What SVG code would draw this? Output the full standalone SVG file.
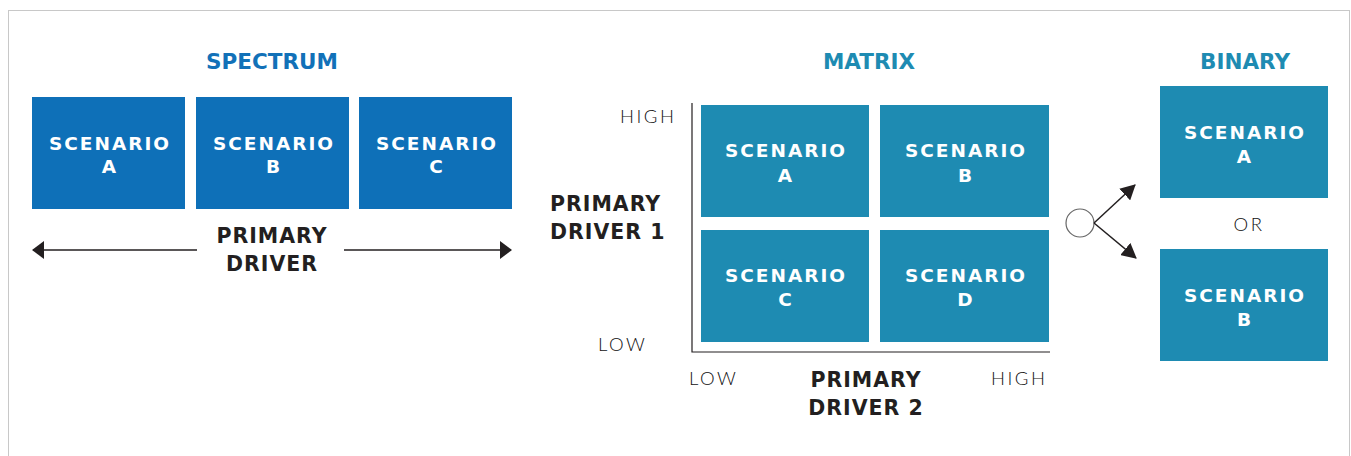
<svg xmlns="http://www.w3.org/2000/svg" width="1351" height="456" viewBox="0 0 1351 456">
<style>
.title{font-family:"DejaVu Sans","Liberation Sans",sans-serif;font-weight:bold;font-size:21.5px;text-anchor:middle}
.t1{fill:#1271b8}
.t2{fill:#1e8bb2}
.box1{fill:#0e70b8}
.box2{fill:#1e8bb2}
.bl{font-family:"DejaVu Sans","Liberation Sans",sans-serif;font-weight:bold;font-size:18.5px;fill:#ffffff;text-anchor:middle;letter-spacing:2px}
.drv{font-family:"DejaVu Sans","Liberation Sans",sans-serif;font-weight:bold;font-size:20.5px;fill:#231f20;letter-spacing:1px}
.lt{font-family:"Lato","Liberation Sans",sans-serif;font-weight:300;font-size:18.5px;fill:#111111;letter-spacing:2.5px}
.ln{stroke:#231f20;stroke-width:1.5;fill:none}
</style>
<defs>
<marker id="ah" markerUnits="userSpaceOnUse" markerWidth="12" markerHeight="18" refX="11" refY="9" orient="auto" viewBox="0 0 12 18">
<path d="M0,0 L12,9 L0,18 z" fill="#231f20"/>
</marker>
<marker id="ah2" markerUnits="userSpaceOnUse" markerWidth="15" markerHeight="16" refX="14" refY="8" orient="auto" viewBox="0 0 15 16">
<path d="M0,0 L15,8 L0,16 z" fill="#231f20"/>
</marker>
</defs>
<rect x="8.5" y="10.5" width="1341" height="470" fill="#ffffff" stroke="#c8c8c8" stroke-width="1"/>

<g id="spectrum">
<text class="title t1" x="272" y="69">SPECTRUM</text>
<g id="spec-a"><rect class="box1" x="32" y="97" width="153" height="112"/><text class="bl" x="110" y="150">SCENARIO</text><text class="bl" x="110" y="173">A</text></g>
<g id="spec-b"><rect class="box1" x="196" y="97" width="153" height="112"/><text class="bl" x="274" y="150">SCENARIO</text><text class="bl" x="274" y="173">B</text></g>
<g id="spec-c"><rect class="box1" x="359" y="97" width="153" height="112"/><text class="bl" x="437" y="150">SCENARIO</text><text class="bl" x="437" y="173">C</text></g>
<g id="spec-driver"><text class="drv" x="272" y="243" text-anchor="middle">PRIMARY</text><text class="drv" x="272" y="271" text-anchor="middle">DRIVER</text></g>
</g>

<g id="matrix">
<text class="title t2" x="869" y="69">MATRIX</text>
<g id="mat-a"><rect class="box2" x="701" y="105" width="168" height="112"/><text class="bl" x="786" y="157">SCENARIO</text><text class="bl" x="786" y="182">A</text></g>
<g id="mat-b"><rect class="box2" x="880" y="105" width="169" height="112"/><text class="bl" x="966" y="157">SCENARIO</text><text class="bl" x="966" y="182">B</text></g>
<g id="mat-c"><rect class="box2" x="701" y="230" width="168" height="112"/><text class="bl" x="786" y="282">SCENARIO</text><text class="bl" x="786" y="306">C</text></g>
<g id="mat-d"><rect class="box2" x="880" y="230" width="169" height="112"/><text class="bl" x="966" y="282">SCENARIO</text><text class="bl" x="966" y="306">D</text></g>
<g id="mat-axes">
<text class="lt" x="620" y="123">HIGH</text>
<text class="lt" x="598" y="351">LOW</text>
<text class="lt" x="689" y="385">LOW</text>
<text class="lt" x="991" y="385">HIGH</text>
<text class="drv" x="550" y="211">PRIMARY</text>
<text class="drv" x="550" y="239">DRIVER 1</text>
<text class="drv" x="866" y="387" text-anchor="middle">PRIMARY</text>
<text class="drv" x="866" y="415" text-anchor="middle">DRIVER 2</text>
</g>
</g>

<g id="binary">
<text class="title t2" x="1245" y="69">BINARY</text>
<g id="bin-a"><rect class="box2" x="1160" y="86" width="168" height="112"/><text class="bl" x="1245" y="139">SCENARIO</text><text class="bl" x="1245" y="163">A</text></g>
<text class="lt" x="1249" y="231" text-anchor="middle">OR</text>
<g id="bin-b"><rect class="box2" x="1160" y="249" width="168" height="112"/><text class="bl" x="1245" y="302">SCENARIO</text><text class="bl" x="1245" y="326">B</text></g>
<g id="bin-origin"><circle cx="1080" cy="223" r="14" fill="#ffffff" stroke="#666666" stroke-width="1.2"/></g>
</g>

<g id="connectors">
<line class="ln" x1="197" y1="250" x2="33" y2="250" marker-end="url(#ah)"/>
<line class="ln" x1="344" y1="250" x2="511" y2="250" marker-end="url(#ah)"/>
<polyline points="692,103 692,352 1050,352" fill="none" stroke="#231f20" stroke-width="1.2"/>
<line class="ln" x1="1094" y1="223" x2="1135" y2="185" stroke-width="1.3" marker-end="url(#ah2)"/>
<line class="ln" x1="1094" y1="223" x2="1136" y2="258" stroke-width="1.3" marker-end="url(#ah2)"/>
</g>
</svg>
